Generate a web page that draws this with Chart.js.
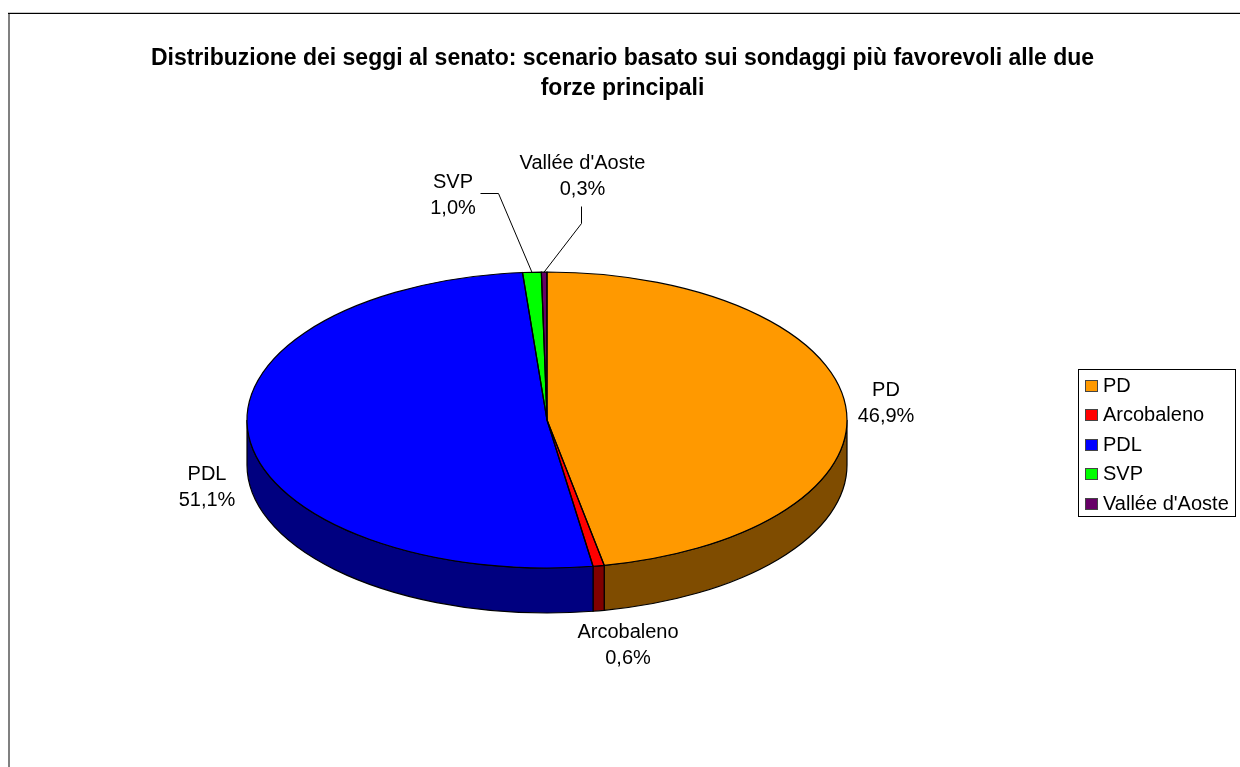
<!DOCTYPE html>
<html><head><meta charset="utf-8">
<style>html,body{margin:0;padding:0;background:#fff}canvas{display:block}</style>
<script src="https://cdn.jsdelivr.net/npm/chart.js@4"></script>
</head><body>
<canvas id="c" width="1240" height="767"></canvas>
<script>
const categories = ["PD","Arcobaleno","PDL","SVP","Vallée d'Aoste"];
const shares = [46.9,0.6,51.1,1.0,0.3];
const shareLabels = ["46,9%","0,6%","51,1%","1,0%","0,3%"];
const topColors = ["#FF9900","#FF0000","#0000FF","#00FF00","#660066"];
const sideColors = ["#7F4C00","#800000","#000080","#008000","#330033"];
const titleLines = ["Distribuzione dei seggi al senato: scenario basato sui sondaggi più favorevoli alle due","forze principali"];

const PIE = {cx:547, cy:420, squash:148/300, depth:45};
const FONT = 'Liberation Sans, Arial, sans-serif';
const TEXT_SIZE = 20;
const labelSpots = [[886,390],[628,632.5],[207,474.5],[453,182],[582.5,163.5]];
const LINE_STEP = 26;
const leaders = {3:[[480,193],[498,193]], 4:[[581,206],[581,223]]};
const legendBox = {x:1078.5,y:369.5,w:157,h:147};
const legendRows = [386,415,445,474,504];

function putText(ctx,str,x,y,align){
  ctx.save();
  ctx.font = TEXT_SIZE+'px '+FONT;
  ctx.fillStyle='#000';
  ctx.textBaseline='middle';
  ctx.textAlign=align;
  ctx.fillText(str,x,y);
  ctx.restore();
}
function arcs(chart){return chart.getDatasetMeta(0).data;}
function toPie(ctx,el){
  ctx.translate(PIE.cx,PIE.cy);
  ctx.scale(1,PIE.squash);
  ctx.translate(-el.x,-el.y);
}
const pie3d = {
  id:'pie3d',
  beforeDraw(chart){
    const ctx=chart.ctx;
    ctx.save();
    ctx.fillStyle='#808080';
    ctx.fillRect(8,13,2,754);
    ctx.fillStyle='#c8c8c8';
    ctx.fillRect(8,12,1232,1);
    ctx.fillStyle='#000';
    ctx.fillRect(8,13,1232,1);
    ctx.restore();
  },
  beforeDatasetsDraw(chart){
    const ctx=chart.ctx;
    // side wall, from the library's arc geometry
    arcs(chart).forEach((el,i)=>{
      const a=Math.max(el.startAngle,0), b=Math.min(el.endAngle,Math.PI);
      if(b<=a) return;
      const R=el.outerRadius, ry=R*PIE.squash;
      ctx.save();
      ctx.beginPath();
      ctx.ellipse(PIE.cx,PIE.cy,R,ry,0,a,b);
      ctx.ellipse(PIE.cx,PIE.cy+PIE.depth,R,ry,0,b,a,true);
      ctx.closePath();
      ctx.fillStyle=sideColors[i];ctx.fill();
      ctx.strokeStyle='#000';ctx.lineWidth=1.2;ctx.stroke();
      ctx.restore();
    });
    const el=arcs(chart)[0];
    ctx.save();
    toPie(ctx,el);
  },
  afterDatasetsDraw(chart){
    const ctx=chart.ctx;
    ctx.restore();
    arcs(chart).forEach(el=>{
      const R=el.outerRadius, ry=R*PIE.squash;
      ctx.save();
      ctx.beginPath();
      ctx.moveTo(PIE.cx,PIE.cy);
      ctx.ellipse(PIE.cx,PIE.cy,R,ry,0,el.startAngle,el.endAngle);
      ctx.closePath();
      ctx.strokeStyle='#000';ctx.lineWidth=1.2;ctx.stroke();
      ctx.restore();
    });
    // data labels
    categories.forEach((name,i)=>{
      const [x,y]=labelSpots[i];
      putText(ctx,name,x,y,'center');
      putText(ctx,shareLabels[i],x,y+LINE_STEP,'center');
    });
    // leader lines end on the arc's rim
    Object.keys(leaders).forEach(k=>{
      const el=arcs(chart)[k], m=(el.startAngle+el.endAngle)/2;
      const pts=leaders[k];
      ctx.save();
      ctx.strokeStyle='#000';ctx.lineWidth=1;
      ctx.beginPath();
      ctx.moveTo(pts[0][0]+.5,pts[0][1]+.5);
      ctx.lineTo(pts[1][0]+.5,pts[1][1]+.5);
      ctx.lineTo(PIE.cx+el.outerRadius*Math.cos(m),PIE.cy+el.outerRadius*PIE.squash*Math.sin(m));
      ctx.stroke();
      ctx.restore();
    });
    // legend
    ctx.save();
    ctx.strokeStyle='#000';ctx.lineWidth=1;
    ctx.strokeRect(legendBox.x,legendBox.y,legendBox.w,legendBox.h);
    categories.forEach((name,i)=>{
      const y=legendRows[i];
      ctx.fillStyle=topColors[i];
      ctx.fillRect(1085,y-6,13,12);
      ctx.strokeStyle='#444';
      ctx.strokeRect(1085.5,y-5.5,12,11);
      putText(ctx,name,1103,y,'left');
    });
    ctx.restore();
  }
};
new Chart(document.getElementById('c'),{
  type:'pie',
  data:{labels:categories,datasets:[{data:shares,backgroundColor:topColors,borderWidth:0,radius:300,clip:false}]},
  options:{
    responsive:false,animation:false,devicePixelRatio:1,
    layout:{padding:{left:5,right:0,top:0,bottom:0}},
    plugins:{
      legend:{display:false},tooltip:{enabled:false},
      title:{display:true,text:titleLines,color:'#000',padding:{top:44,bottom:0},
        font:{family:FONT,size:23,weight:'bold',lineHeight:30/23}}
    }
  },
  plugins:[pie3d]
});
</script>
</body></html>
